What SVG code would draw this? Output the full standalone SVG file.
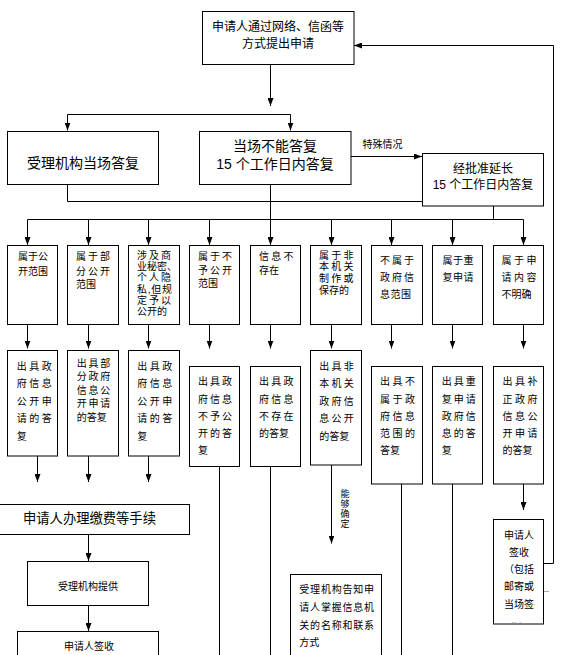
<svg xmlns="http://www.w3.org/2000/svg" width="565" height="655" viewBox="0 0 565 655">
<style>
.box{fill:#fff;stroke:#000;stroke-width:1}
.t{font-family:"Liberation Sans","Noto Sans CJK SC",sans-serif;fill:#000}
.s{font-size:10px}
.c{stroke:#000;stroke-width:1;fill:none}
.a{marker-end:url(#ah)}
</style>
<defs>
<marker id="ah" viewBox="0 0 8 6" refX="8" refY="3" markerWidth="8" markerHeight="6" markerUnits="userSpaceOnUse" orient="auto">
<path d="M0,0 L8,3 L0,6 z" fill="#000"/>
</marker>
<clipPath id="clipSign"><rect x="493" y="519" width="51" height="103.5"/></clipPath>
</defs>
<rect width="565" height="655" fill="#fff"/>

<g id="connectors">
<path class="c a" d="M270.5 64.5 V106"/>
<path class="c" d="M67.5 114.5 H290.5"/>
<path class="c a" d="M67.5 114.5 V130.5"/>
<path class="c a" d="M290.5 114.5 V130.5"/>
<path class="c a" d="M351 156.5 H422"/>
<path class="c" d="M67.5 184.5 V201.5 H493.5 V219.5"/>
<path class="c" d="M270.5 184.5 V219.5"/>
<path class="c" d="M27.5 219.5 H523.5"/>
<path class="c a" d="M27.5 219.5 V245"/>
<path class="c a" d="M88.5 219.5 V245"/>
<path class="c a" d="M148.5 219.5 V245"/>
<path class="c a" d="M209.5 219.5 V245"/>
<path class="c a" d="M270.5 219.5 V245"/>
<path class="c a" d="M331.5 219.5 V245"/>
<path class="c a" d="M391.5 219.5 V245"/>
<path class="c a" d="M452.5 219.5 V245"/>
<path class="c a" d="M523.5 219.5 V245"/>
<path class="c a" d="M27.5 324.5 V348.5"/>
<path class="c a" d="M88.5 324.5 V348.5"/>
<path class="c a" d="M148.5 324.5 V348.5"/>
<path class="c a" d="M209.5 324.5 V348.5"/>
<path class="c a" d="M270.5 324.5 V348.5"/>
<path class="c a" d="M331.5 324.5 V348.5"/>
<path class="c a" d="M391.5 324.5 V348.5"/>
<path class="c a" d="M452.5 324.5 V348.5"/>
<path class="c a" d="M523.5 324.5 V348.5"/>
<path class="c a" d="M37.5 456 V482"/>
<path class="c a" d="M88.5 456 V482"/>
<path class="c a" d="M148.5 456 V482"/>
<path class="c" d="M219.5 466.5 V656"/>
<path class="c" d="M270.5 466.5 V656"/>
<path class="c" d="M401.5 484 V656"/>
<path class="c" d="M452.5 484 V656"/>
<path class="c a" d="M331.5 465 V543.5"/>
<path class="c a" d="M523.5 484 V510"/>
<path class="c a" d="M88.5 534.5 V561"/>
<path class="c a" d="M88.5 605.5 V631"/>
<path class="c a" d="M543.5 563.5 H553.5 V45.5 H354"/>
<path d="M543.5 591.5 H549" stroke="#aaa" stroke-width="1"/>
<text class="t" x="362.5" y="147.6" font-size="10" fill="#222">特殊情况</text>
<text class="t" font-size="9" text-anchor="middle"><tspan x="345" y="497.3">能</tspan><tspan x="345" y="507.3">够</tspan><tspan x="345" y="517.3">确</tspan><tspan x="345" y="527.3">定</tspan></text>
</g>

<g id="n-apply">
<rect class="box" x="202.5" y="11.5" width="151.5" height="53"/>
<text class="t" font-size="12" text-anchor="middle"><tspan x="278" y="31">申请人通过网络、信函等</tspan><tspan x="278" y="47.6">方式提出申请</tspan></text>
</g>

<g id="n-onsite">
<rect class="box" x="7.5" y="131.5" width="151" height="53"/>
<text class="t" font-size="14" x="83" y="168.3" text-anchor="middle">受理机构当场答复</text>
</g>

<g id="n-15days">
<rect class="box" x="199.5" y="131.5" width="151.5" height="53"/>
<text class="t" font-size="14" text-anchor="middle"><tspan x="275" y="150.5">当场不能答复</tspan><tspan x="275" y="168.5">15 个工作日内答复</tspan></text>
</g>

<g id="n-extend">
<rect class="box" x="422.5" y="153.5" width="121" height="52.5"/>
<text class="t" font-size="12" text-anchor="middle"><tspan x="483" y="172.6">经批准延长</tspan><tspan x="483" y="189.3">15 个工作日内答复</tspan></text>
</g>

<g id="r1-b1">
<rect class="box" x="7.5" y="245.5" width="50" height="79"/>
<text class="t s"><tspan x="18" y="260.3">属于公</tspan><tspan x="18" y="274.6">开范围</tspan></text>
</g>
<g id="r1-b2">
<rect class="box" x="67.5" y="245.5" width="51" height="79"/>
<text class="t s"><tspan x="76" y="260.3" letter-spacing="2">属于部</tspan><tspan x="76" y="274.6" letter-spacing="2">分公开</tspan><tspan x="76" y="287.6">范围</tspan></text>
</g>
<g id="r1-b3">
<rect class="box" x="128.5" y="245.5" width="51" height="79"/>
<text class="t s"><tspan x="137" y="258.6" letter-spacing="2">涉及商</tspan><tspan x="137" y="269.9">业秘密、</tspan><tspan x="137" y="281.2" letter-spacing="2">个人隐</tspan><tspan x="137" y="292.5" letter-spacing="0.7">私,但规</tspan><tspan x="137" y="303.8" letter-spacing="2">定予以</tspan><tspan x="137" y="315.1">公开的</tspan></text>
</g>
<g id="r1-b4">
<rect class="box" x="189.5" y="245.5" width="50" height="79"/>
<text class="t s"><tspan x="198" y="260.3" letter-spacing="2">属于不</tspan><tspan x="198" y="273.6" letter-spacing="2">予公开</tspan><tspan x="198" y="286.6">范围</tspan></text>
</g>
<g id="r1-b5">
<rect class="box" x="250.5" y="245.5" width="50" height="79"/>
<text class="t s"><tspan x="259" y="260.3" letter-spacing="2.2">信息不</tspan><tspan x="259" y="273.6">存在</tspan></text>
</g>
<g id="r1-b6">
<rect class="box" x="310.5" y="245.5" width="51" height="79"/>
<text class="t s"><tspan x="319" y="258.6" letter-spacing="2.2">属于非</tspan><tspan x="319" y="270.3" letter-spacing="2.2">本机关</tspan><tspan x="319" y="282" letter-spacing="2.2">制作或</tspan><tspan x="319" y="293.7">保存的</tspan></text>
</g>
<g id="r1-b7">
<rect class="box" x="371.5" y="245.5" width="51" height="79"/>
<text class="t s"><tspan x="380" y="264.3" letter-spacing="2">不属于</tspan><tspan x="380" y="281.3" letter-spacing="2">政府信</tspan><tspan x="380" y="298.3" letter-spacing="0.5">息范围</tspan></text>
</g>
<g id="r1-b8">
<rect class="box" x="432.5" y="245.5" width="50" height="79"/>
<text class="t s"><tspan x="442.5" y="264.3" letter-spacing="0.5">属于重</tspan><tspan x="442.5" y="281.3" letter-spacing="0.5">复申请</tspan></text>
</g>
<g id="r1-b9">
<rect class="box" x="493.5" y="245.5" width="50" height="79"/>
<text class="t s"><tspan x="501.5" y="264.3" letter-spacing="2.5">属于申</tspan><tspan x="501.5" y="281.3" letter-spacing="2.5">请内容</tspan><tspan x="501.5" y="298.3">不明确</tspan></text>
</g>

<g id="r2-b1">
<rect class="box" x="7.5" y="350.5" width="50" height="105.5"/>
<text class="t s" letter-spacing="2.5"><tspan x="16.7" y="369.6">出具政</tspan><tspan x="16.7" y="387.1">府信息</tspan><tspan x="16.7" y="404.6">公开申</tspan><tspan x="16.7" y="422.1">请的答</tspan><tspan x="16.7" y="439.6">复</tspan></text>
</g>
<g id="r2-b2">
<rect class="box" x="67.5" y="350.5" width="51" height="105.5"/>
<text class="t s"><tspan x="76.7" y="366.6" letter-spacing="1.8">出具部</tspan><tspan x="76.7" y="380.1" letter-spacing="1.8">分政府</tspan><tspan x="76.7" y="393.6" letter-spacing="1.8">信息公</tspan><tspan x="76.7" y="407.1" letter-spacing="1.8">开申请</tspan><tspan x="76.7" y="420.6">的答复</tspan></text>
</g>
<g id="r2-b3">
<rect class="box" x="128.5" y="350.5" width="51" height="105.5"/>
<text class="t s" letter-spacing="2.5"><tspan x="137.3" y="369.6">出具政</tspan><tspan x="137.3" y="387.1">府信息</tspan><tspan x="137.3" y="404.6">公开申</tspan><tspan x="137.3" y="422.1">请的答</tspan><tspan x="137.3" y="439.6">复</tspan></text>
</g>
<g id="r2-b4">
<rect class="box" x="189.5" y="366.5" width="50" height="100"/>
<text class="t s" letter-spacing="2"><tspan x="198" y="385.3">出具政</tspan><tspan x="198" y="402.5">府信息</tspan><tspan x="198" y="419.7">不予公</tspan><tspan x="198" y="436.9">开的答</tspan><tspan x="198" y="454.1">复</tspan></text>
</g>
<g id="r2-b5">
<rect class="box" x="250.5" y="366.5" width="50" height="100"/>
<text class="t s"><tspan x="259" y="385.3" letter-spacing="2.2">出具政</tspan><tspan x="259" y="402.5" letter-spacing="2.2">府信息</tspan><tspan x="259" y="419.7" letter-spacing="2.2">不存在</tspan><tspan x="259" y="436.9">的答复</tspan></text>
</g>
<g id="r2-b6">
<rect class="box" x="310.5" y="350.5" width="51" height="114.5"/>
<text class="t s"><tspan x="319.3" y="369.6" letter-spacing="2.2">出具非</tspan><tspan x="319.3" y="387.1" letter-spacing="2.2">本机关</tspan><tspan x="319.3" y="404.6" letter-spacing="2.2">政府信</tspan><tspan x="319.3" y="422.1" letter-spacing="2.2">息公开</tspan><tspan x="319.3" y="439.6">的答复</tspan></text>
</g>
<g id="r2-b7">
<rect class="box" x="371.5" y="366.5" width="51" height="117.5"/>
<text class="t s"><tspan x="380" y="385.3" letter-spacing="2.5">出具不</tspan><tspan x="380" y="402.5" letter-spacing="2.5">属于政</tspan><tspan x="380" y="419.7" letter-spacing="2.5">府信息</tspan><tspan x="380" y="436.9" letter-spacing="2.5">范围的</tspan><tspan x="380" y="454.1">答复</tspan></text>
</g>
<g id="r2-b8">
<rect class="box" x="432.5" y="366.5" width="50" height="117.5"/>
<text class="t s" letter-spacing="2"><tspan x="441.7" y="385.3">出具重</tspan><tspan x="441.7" y="402.5">复申请</tspan><tspan x="441.7" y="419.7">政府信</tspan><tspan x="441.7" y="436.9">息的答</tspan><tspan x="441.7" y="454.1">复</tspan></text>
</g>
<g id="r2-b9">
<rect class="box" x="493.5" y="366.5" width="50" height="117.5"/>
<text class="t s"><tspan x="502.5" y="385.3" letter-spacing="2.5">出具补</tspan><tspan x="502.5" y="402.5" letter-spacing="2.5">正政府</tspan><tspan x="502.5" y="419.7" letter-spacing="2.5">信息公</tspan><tspan x="502.5" y="436.9" letter-spacing="2.5">开申请</tspan><tspan x="502.5" y="454.1">的答复</tspan></text>
</g>

<g id="n-pay">
<rect class="box" x="-1" y="504.5" width="190.5" height="30"/>
<text class="t" font-size="13.3" x="23" y="523.1">申请人办理缴费等手续</text>
</g>
<g id="n-provide">
<rect class="box" x="27.5" y="561.5" width="121" height="44"/>
<text class="t s" x="58" y="589.6">受理机构提供</text>
</g>
<g id="n-sign-left">
<rect class="box" x="17.5" y="631.5" width="141" height="40"/>
<text class="t s" x="64" y="650.3">申请人签收</text>
</g>
<g id="n-inform">
<rect class="box" x="290.5" y="574.5" width="91" height="100"/>
<text class="t s"><tspan x="299.3" y="592.9" letter-spacing="0.8">受理机构告知申</tspan><tspan x="299.3" y="610.9" letter-spacing="0.8">请人掌握信息机</tspan><tspan x="299.3" y="628.6" letter-spacing="0.8">关的名称和联系</tspan><tspan x="299.3" y="646.3">方式</tspan></text>
</g>
<g id="n-sign-right">
<rect class="box" x="493.5" y="519.5" width="50" height="104.5"/>
<text class="t s" text-anchor="middle" clip-path="url(#clipSign)"><tspan x="519" y="538.6">申请人</tspan><tspan x="519" y="555.8">签收</tspan><tspan x="519" y="573">（包括</tspan><tspan x="519" y="590.3">邮寄或</tspan><tspan x="519" y="607.5">当场签</tspan><tspan x="519" y="630.5">收）</tspan></text>
</g>
</svg>
